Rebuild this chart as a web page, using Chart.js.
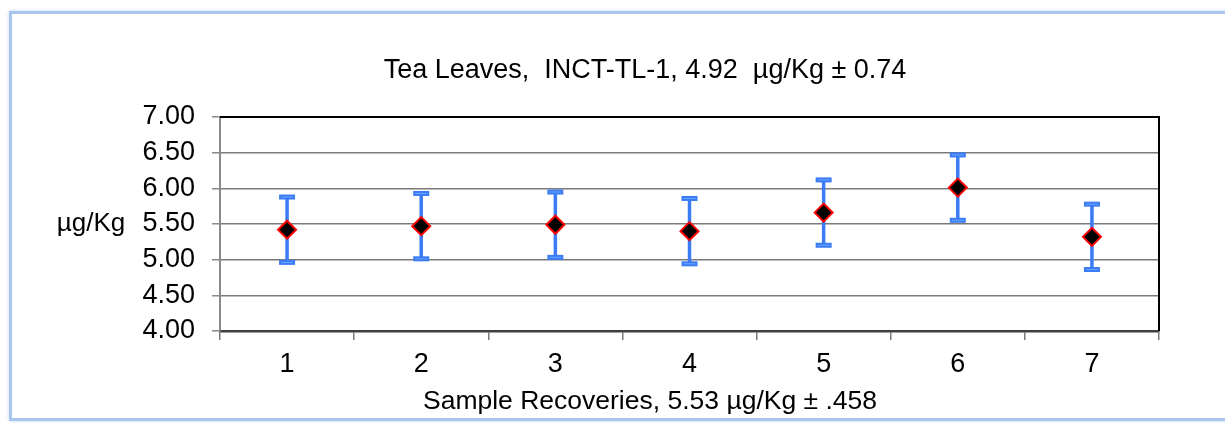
<!DOCTYPE html>
<html>
<head>
<meta charset="utf-8">
<script src="https://cdn.jsdelivr.net/npm/chart.js@4"></script>
<style>
  body { margin: 0; background: #fff; }
  #wrap { position: relative; width: 1225px; height: 423px; overflow: hidden; }
  #frame {
    position: absolute; left: 9px; top: 11px; width: 1240px; height: 404px;
    border: 3px solid #a9c5ee; box-shadow: 0 0 4px #c6d9f5; background: #fff;
  }
  #chart { position: absolute; left: 0; top: 0; }
</style>
</head>
<body>
<div id="wrap">
  <div id="frame"></div>
  <canvas id="chart" width="1225" height="423"></canvas>
</div>
<script>
// --- data ---
const samples = ['1', '2', '3', '4', '5', '6', '7'];
const recoveries = [5.42, 5.47, 5.49, 5.40, 5.66, 6.01, 5.32];
const errorMargin = [0.458, 0.458, 0.458, 0.458, 0.458, 0.458, 0.458];
const yTicks = [4.0, 4.5, 5.0, 5.5, 6.0, 6.5, 7.0];

const chartTitle = 'Tea Leaves,  INCT-TL-1, 4.92  µg/Kg ± 0.74';
const xTitle = 'Sample Recoveries, 5.53 µg/Kg ± .458';
const yTitle = 'µg/Kg';

const FONT = "'Liberation Sans', Arial, sans-serif";

// error bars, drawn under the diamonds
const errorBars = {
  id: 'errorBars',
  beforeDatasetsDraw(chart) {
    const ctx = chart.ctx;
    const meta = chart.getDatasetMeta(0);
    const y = chart.scales.y;
    ctx.save();
    meta.data.forEach((pt, i) => {
      const x = pt.x;
      const top = y.getPixelForValue(recoveries[i] + errorMargin[i]);
      const bot = y.getPixelForValue(recoveries[i] - errorMargin[i]);
      ctx.strokeStyle = '#3b7cf4';
      ctx.lineWidth = 3.5;
      ctx.beginPath();
      ctx.moveTo(x, top);
      ctx.lineTo(x, bot);
      ctx.stroke();
      [top, bot].forEach(cy => {
        ctx.fillStyle = '#3b7cf4';
        ctx.fillRect(x - 8, cy - 2.5, 16, 5);
        ctx.fillStyle = '#6aa6ff';
        ctx.fillRect(x - 6, cy - 0.5, 12, 1);
      });
    });
    ctx.restore();
  }
};

// top/right frame of plot area and the chart texts
const plotFrame = {
  id: 'plotFrame',
  afterDraw(chart) {
    const { ctx, chartArea: a } = chart;
    ctx.save();
    ctx.strokeStyle = '#000';
    ctx.lineWidth = 2;
    ctx.beginPath();
    ctx.moveTo(a.left, a.top);
    ctx.lineTo(a.right, a.top);
    ctx.lineTo(a.right, a.bottom);
    ctx.stroke();

    ctx.fillStyle = '#000';
    ctx.textAlign = 'center';
    ctx.textBaseline = 'middle';
    ctx.font = '26px ' + FONT;
    ctx.fillText(yTitle, 91, chart.scales.y.getPixelForValue(5.5));
    ctx.font = '27px ' + FONT;
    ctx.fillText(chartTitle, 645, 71);
    ctx.font = '26.5px ' + FONT;
    ctx.fillText(xTitle, 650, 402);
    ctx.restore();
  }
};

new Chart(document.getElementById('chart'), {
  type: 'line',
  data: {
    labels: samples,
    datasets: [{
      data: recoveries,
      showLine: false,
      pointStyle: 'rectRot',
      pointRadius: 9,
      pointHoverRadius: 9,
      backgroundColor: '#000',
      borderColor: '#ff0000',
      borderWidth: 2
    }]
  },
  options: {
    responsive: false,
    animation: false,
    events: [],
    layout: { padding: { left: 0, right: 66, top: 117, bottom: 0 } },
    plugins: {
      legend: { display: false },
      tooltip: { enabled: false },
      title: { display: false }
    },
    scales: {
      x: {
        offset: true,
        grid: {
          offset: true,
          drawOnChartArea: false,
          drawTicks: true,
          tickLength: 9,
          color: '#7a7a7a',
          lineWidth: 1.5
        },
        border: { color: '#404040', width: 2.5 },
        ticks: {
          color: '#000',
          padding: 8,
          maxRotation: 0,
          font: { family: FONT, size: 27 }
        },
        afterFit(scale) { scale.height = 92; }
      },
      y: {
        min: 4,
        max: 7,
        afterBuildTicks(scale) { scale.ticks = yTicks.map(v => ({ value: v })); },
        grid: {
          color: ctx => ctx.tick && ctx.tick.value === 7 ? '#000' : '#7a7a7a',
          lineWidth: 1.5,
          tickLength: 8,
          tickColor: '#8a8a8a'
        },
        border: { color: '#8a8a8a', width: 2 },
        ticks: {
          color: '#000',
          padding: 17,
          font: { family: FONT, size: 27 },
          callback: v => Number(v).toFixed(2)
        },
        afterFit(scale) { scale.width = 220; }
      }
    }
  },
  plugins: [errorBars, plotFrame]
});
</script>
</body>
</html>
